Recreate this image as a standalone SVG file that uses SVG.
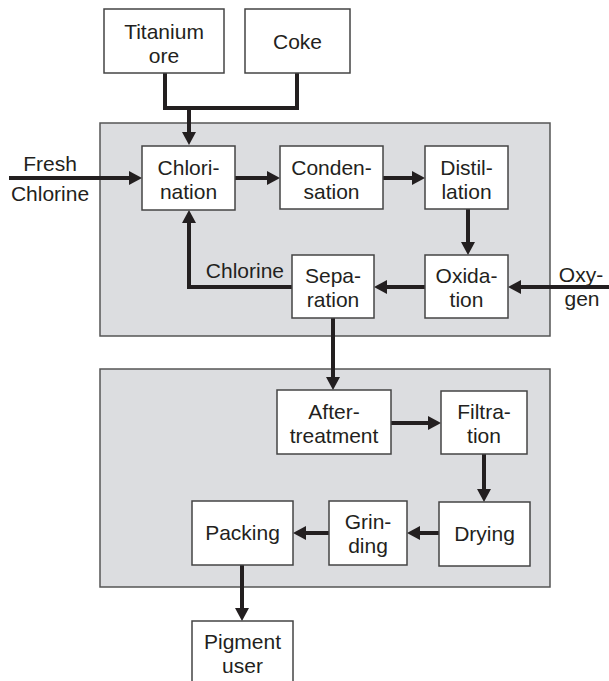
<svg xmlns="http://www.w3.org/2000/svg" width="609" height="681" viewBox="0 0 609 681">
<style>
  .panel { fill: #dcdde0; stroke: #555; stroke-width: 1.5; }
  .box { fill: #ffffff; stroke: #444; stroke-width: 1.5; }
  .t { font-family: "Liberation Sans", Arial, sans-serif; font-size: 21px; fill: #231f20; text-anchor: middle; }
  .c { fill: none; stroke: #231f20; stroke-width: 4; stroke-linejoin: miter; }
</style>
<defs>
  <marker id="ah" markerUnits="userSpaceOnUse" markerWidth="14" markerHeight="14" refX="3" refY="7" orient="auto">
    <path d="M0,0 L13,7 L0,14 z" fill="#231f20"/>
  </marker>
</defs>
<rect width="609" height="681" fill="#ffffff"/>
<g id="panels">
  <rect class="panel" x="100" y="123" width="450" height="213"/>
  <rect class="panel" x="100" y="369" width="450" height="218"/>
</g>
<g id="connectors">
  <polyline class="c" points="165,73 165,108 297,108 297,73"/>
  <line class="c" x1="189" y1="106" x2="189" y2="135" marker-end="url(#ah)"/>
  <line class="c" x1="9" y1="178" x2="132" y2="178" marker-end="url(#ah)"/>
  <line class="c" x1="235" y1="178" x2="270" y2="178" marker-end="url(#ah)"/>
  <line class="c" x1="383" y1="178" x2="415" y2="178" marker-end="url(#ah)"/>
  <line class="c" x1="468" y1="209" x2="468" y2="245" marker-end="url(#ah)"/>
  <line class="c" x1="609" y1="287" x2="518" y2="287" marker-end="url(#ah)"/>
  <line class="c" x1="425" y1="287" x2="384" y2="287" marker-end="url(#ah)"/>
  <polyline class="c" points="292,287 189,287 189,220" marker-end="url(#ah)"/>
  <line class="c" x1="333" y1="318" x2="333" y2="380" marker-end="url(#ah)"/>
  <line class="c" x1="391" y1="423" x2="431" y2="423" marker-end="url(#ah)"/>
  <line class="c" x1="484" y1="454" x2="484" y2="492" marker-end="url(#ah)"/>
  <line class="c" x1="439" y1="533" x2="417" y2="533" marker-end="url(#ah)"/>
  <line class="c" x1="329" y1="533" x2="303" y2="533" marker-end="url(#ah)"/>
  <line class="c" x1="242" y1="565" x2="242" y2="611" marker-end="url(#ah)"/>
</g>
<g id="labels">
  <text class="t" x="50" y="171">Fresh</text>
  <text class="t" x="50" y="201">Chlorine</text>
  <text class="t" x="284" y="278" style="text-anchor:end">Chlorine</text>
  <text class="t" x="581" y="282">Oxy-</text>
  <text class="t" x="582" y="306">gen</text>
</g>
<g id="titanium-ore">
  <rect class="box" x="104" y="9" width="120" height="64"/>
  <text class="t" x="164" y="39">Titanium</text>
  <text class="t" x="164" y="63">ore</text>
</g>
<g id="coke">
  <rect class="box" x="245" y="9" width="105" height="64"/>
  <text class="t" x="297.5" y="49">Coke</text>
</g>
<g id="chlorination">
  <rect class="box" x="142" y="146" width="93" height="64"/>
  <text class="t" x="188.5" y="175">Chlori-</text>
  <text class="t" x="188.5" y="199">nation</text>
</g>
<g id="condensation">
  <rect class="box" x="280" y="146" width="103" height="63"/>
  <text class="t" x="331.5" y="175">Conden-</text>
  <text class="t" x="331.5" y="199">sation</text>
</g>
<g id="distillation">
  <rect class="box" x="425" y="146" width="83" height="63"/>
  <text class="t" x="466.5" y="175">Distil-</text>
  <text class="t" x="466.5" y="199">lation</text>
</g>
<g id="separation">
  <rect class="box" x="292" y="255" width="82" height="63"/>
  <text class="t" x="333" y="283">Sepa-</text>
  <text class="t" x="333" y="307">ration</text>
</g>
<g id="oxidation">
  <rect class="box" x="425" y="255" width="83" height="63"/>
  <text class="t" x="466.5" y="283">Oxida-</text>
  <text class="t" x="466.5" y="307">tion</text>
</g>
<g id="after-treatment">
  <rect class="box" x="277" y="390" width="114" height="64"/>
  <text class="t" x="334" y="419">After-</text>
  <text class="t" x="334" y="443">treatment</text>
</g>
<g id="filtration">
  <rect class="box" x="441" y="391" width="86" height="63"/>
  <text class="t" x="484" y="419">Filtra-</text>
  <text class="t" x="484" y="443">tion</text>
</g>
<g id="drying">
  <rect class="box" x="439" y="502" width="91" height="64"/>
  <text class="t" x="484.5" y="541">Drying</text>
</g>
<g id="grinding">
  <rect class="box" x="329" y="501" width="78" height="64"/>
  <text class="t" x="368" y="529">Grin-</text>
  <text class="t" x="368" y="553">ding</text>
</g>
<g id="packing">
  <rect class="box" x="192" y="501" width="101" height="64"/>
  <text class="t" x="242.5" y="540">Packing</text>
</g>
<g id="pigment-user">
  <rect class="box" x="192" y="621" width="101" height="70"/>
  <text class="t" x="242.5" y="649">Pigment</text>
  <text class="t" x="242.5" y="673">user</text>
</g>
</svg>
